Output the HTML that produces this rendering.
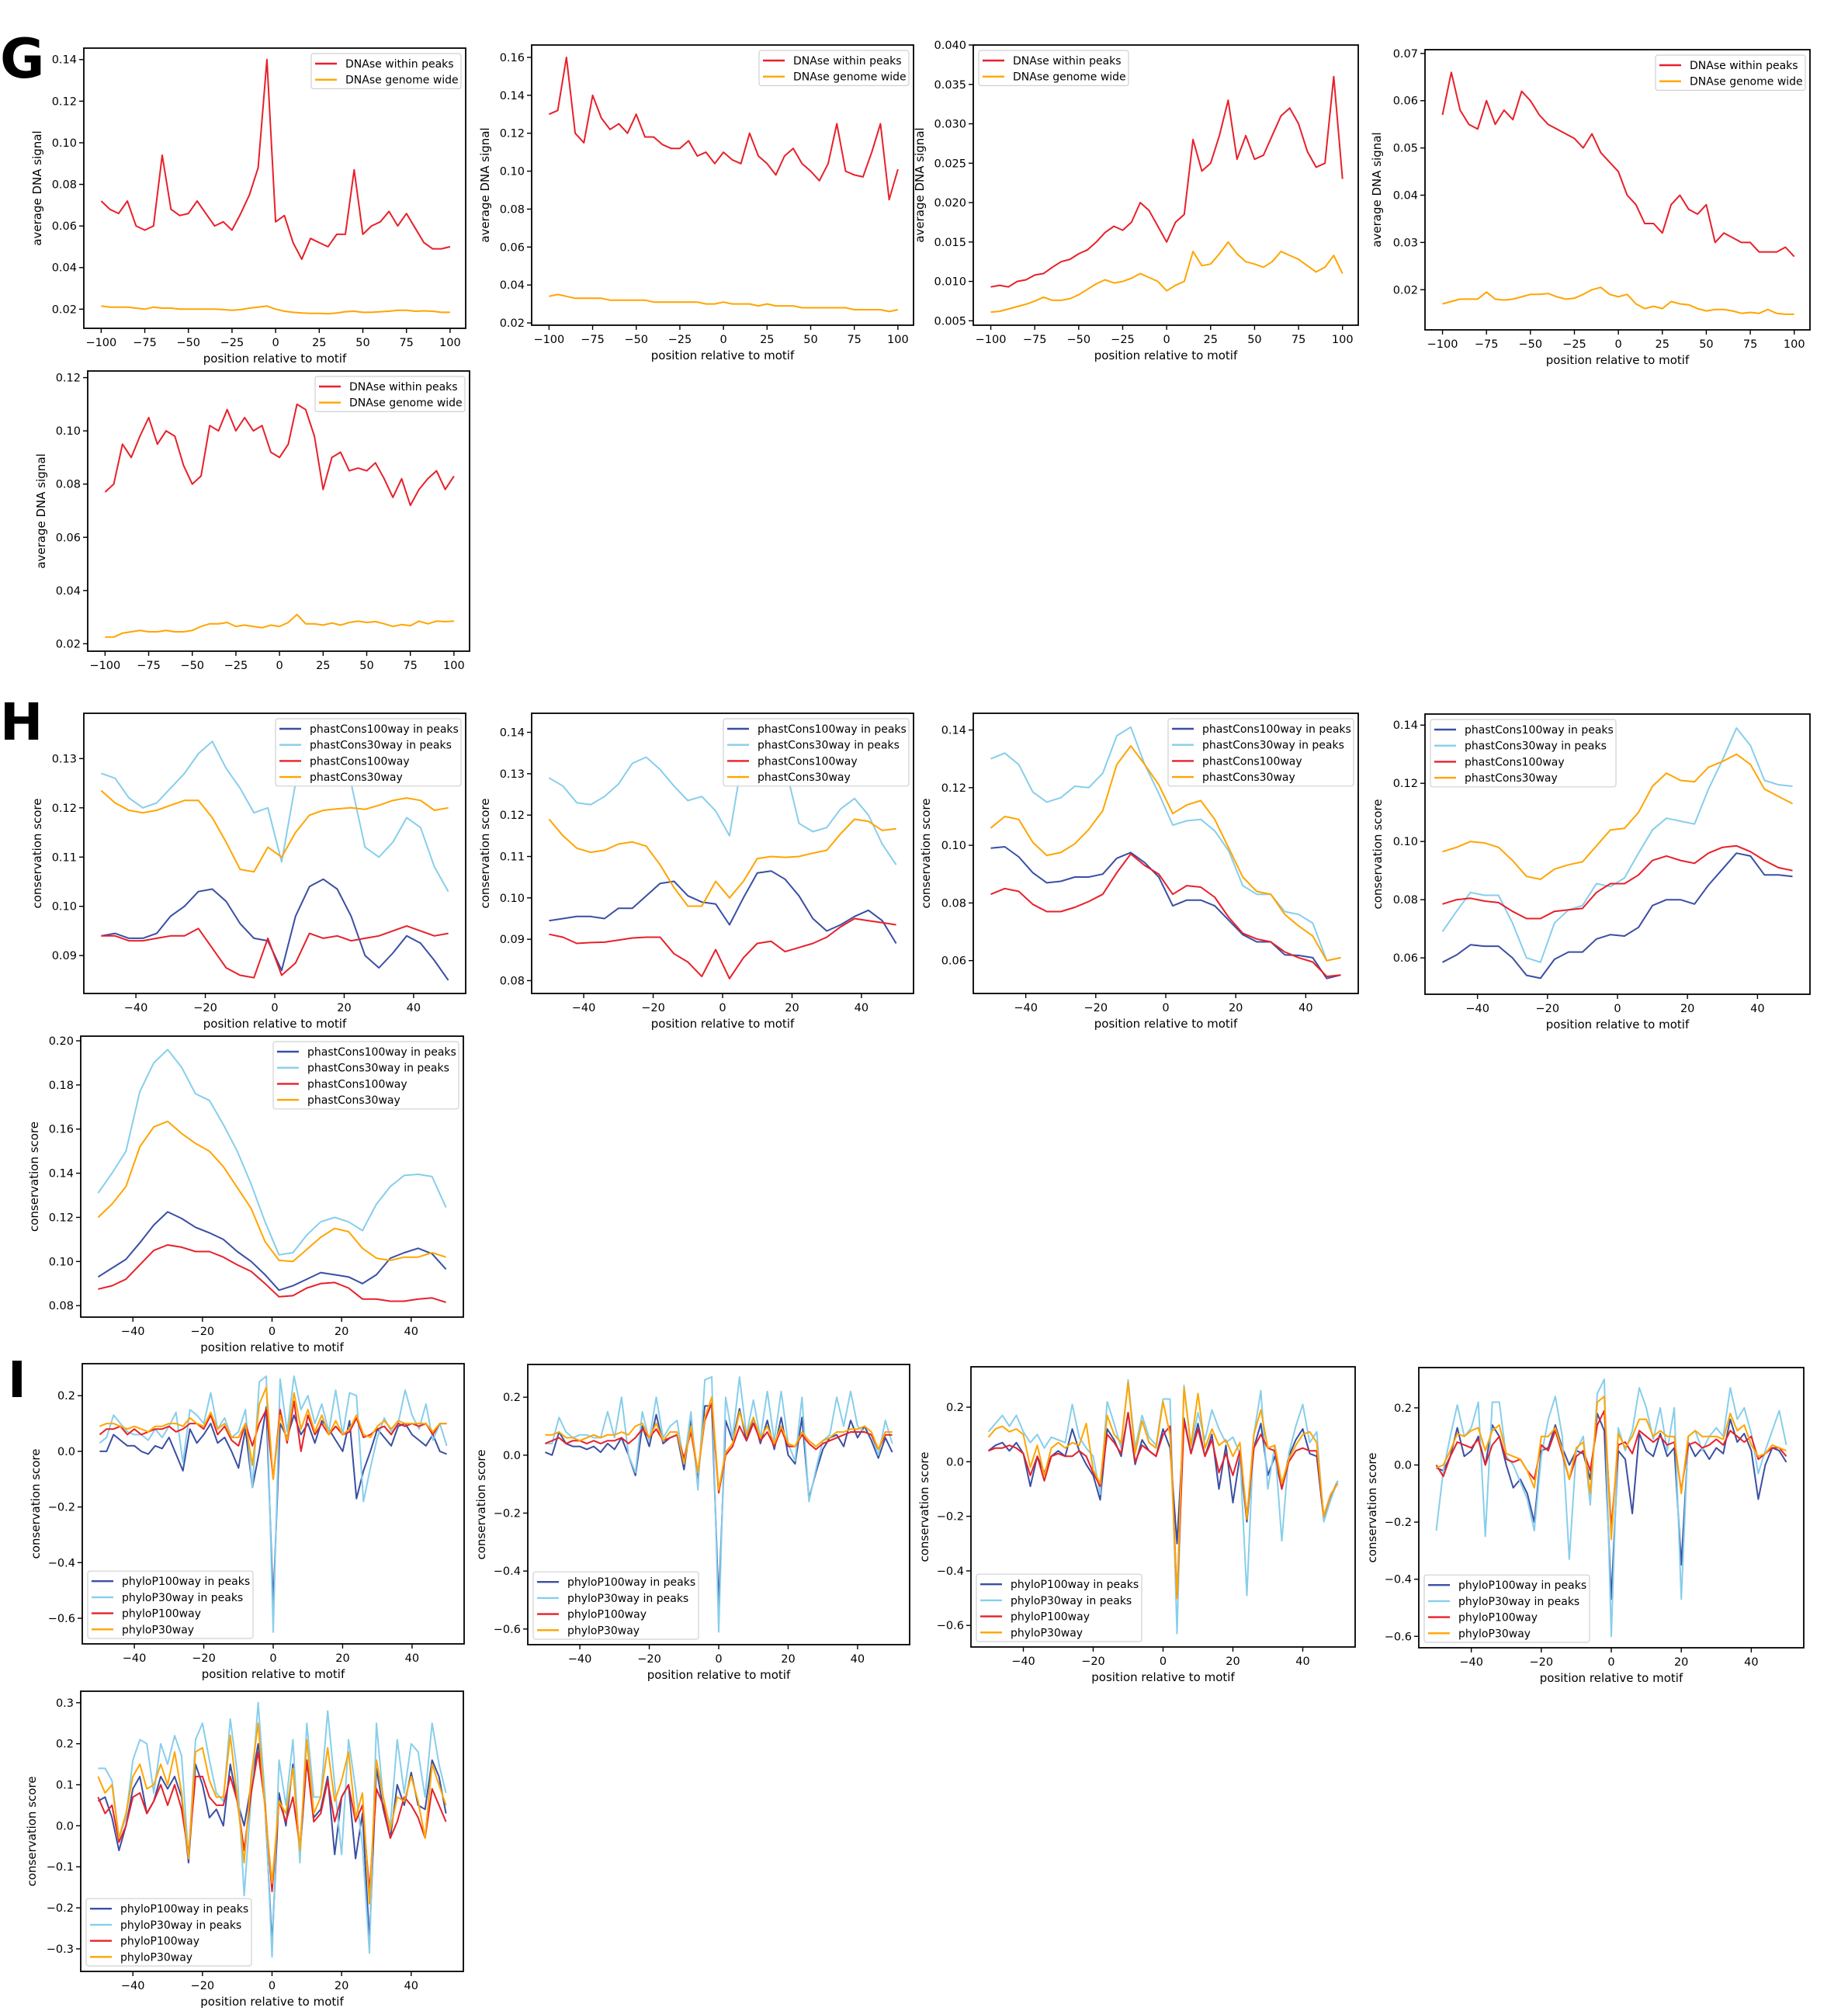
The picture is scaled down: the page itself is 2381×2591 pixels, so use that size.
<!DOCTYPE html>
<html><head><meta charset="utf-8"><style>
html,body{margin:0;padding:0;background:#fff}
svg{display:block}
text{font-family:"DejaVu Sans","Liberation Sans",sans-serif;fill:#000}
</style></head><body>
<svg id="fig" width="2381" height="2591" viewBox="0 0 2381 2591" xmlns="http://www.w3.org/2000/svg">
<rect width="2381" height="2591" fill="#fff"/>
<text x="0" y="100" font-size="70" font-weight="bold" font-family="DejaVu Sans, sans-serif">G</text>
<text x="0" y="953" font-size="66" font-weight="bold" font-family="DejaVu Sans, sans-serif">H</text>
<text x="10" y="1800" font-size="64" font-weight="bold" font-family="DejaVu Sans, sans-serif">I</text>
</svg>
<script>
// ---------- data ----------
const gX=[-100,-95,-90,-85,-80,-75,-70,-65,-60,-55,-50,-45,-40,-35,-30,-25,-20,-15,-10,-5,0,5,10,15,20,25,30,35,40,45,50,55,60,65,70,75,80,85,90,95,100];
const hX=[-50,-46,-42,-38,-34,-30,-26,-22,-18,-14,-10,-6,-2,2,6,10,14,18,22,26,30,34,38,42,46,50];
const iX=[-50,-48,-46,-44,-42,-40,-38,-36,-34,-32,-30,-28,-26,-24,-22,-20,-18,-16,-14,-12,-10,-8,-6,-4,-2,0,2,4,6,8,10,12,14,16,18,20,22,24,26,28,30,32,34,36,38,40,42,44,46,48,50];
const gXTicks=['-100','-75','-50','-25','0','25','50','75','100'];
const hXTicks=['-40','-20','0','20','40'];

const g1Red=[0.072,0.068,0.066,0.072,0.060,0.058,0.060,0.094,0.068,0.065,0.066,0.072,0.066,0.060,0.062,0.058,0.066,0.075,0.088,0.140,0.062,0.065,0.052,0.044,0.054,0.052,0.050,0.056,0.056,0.087,0.056,0.060,0.062,0.067,0.060,0.066,0.059,0.052,0.049,0.049,0.050];
const g1Orange=[0.0215,0.021,0.021,0.021,0.0205,0.020,0.021,0.0205,0.0205,0.020,0.020,0.020,0.020,0.020,0.0198,0.0195,0.0198,0.0205,0.021,0.0215,0.020,0.019,0.0185,0.0182,0.018,0.018,0.0178,0.0182,0.0188,0.019,0.0185,0.0185,0.0188,0.019,0.0195,0.0195,0.019,0.0192,0.019,0.0185,0.0185];
const g1YTicks=['0.02','0.04','0.06','0.08','0.10','0.12','0.14'];

const g2Red=[0.13,0.132,0.16,0.12,0.115,0.14,0.128,0.122,0.125,0.12,0.13,0.118,0.118,0.114,0.112,0.112,0.116,0.108,0.11,0.104,0.11,0.106,0.104,0.12,0.108,0.104,0.098,0.108,0.112,0.104,0.1,0.095,0.104,0.125,0.1,0.098,0.097,0.11,0.125,0.085,0.101];
const g2Orange=[0.034,0.035,0.034,0.033,0.033,0.033,0.033,0.032,0.032,0.032,0.032,0.032,0.031,0.031,0.031,0.031,0.031,0.031,0.030,0.030,0.031,0.030,0.030,0.030,0.029,0.030,0.029,0.029,0.029,0.028,0.028,0.028,0.028,0.028,0.028,0.027,0.027,0.027,0.027,0.026,0.027];
const g2YTicks=['0.02','0.04','0.06','0.08','0.10','0.12','0.14','0.16'];

const g3Red=[0.0093,0.0095,0.0093,0.0100,0.0102,0.0108,0.0110,0.0118,0.0125,0.0128,0.0135,0.0140,0.0150,0.0162,0.0170,0.0165,0.0175,0.0200,0.0190,0.0170,0.0150,0.0175,0.0185,0.0280,0.0240,0.0250,0.0285,0.0330,0.0255,0.0285,0.0255,0.0260,0.0285,0.0310,0.0320,0.0300,0.0265,0.0245,0.0250,0.0360,0.0230];
const g3Orange=[0.0061,0.0062,0.0065,0.0068,0.0071,0.0075,0.0080,0.0076,0.0076,0.0078,0.0083,0.0090,0.0097,0.0102,0.0098,0.0100,0.0104,0.0110,0.0105,0.0100,0.0088,0.0095,0.0100,0.0138,0.0120,0.0122,0.0135,0.0150,0.0135,0.0125,0.0122,0.0118,0.0125,0.0138,0.0133,0.0128,0.0120,0.0112,0.0118,0.0133,0.0110];
const g3YTicks=['0.005','0.010','0.015','0.020','0.025','0.030','0.035','0.040'];

const g4Red=[0.057,0.066,0.058,0.055,0.054,0.060,0.055,0.058,0.056,0.062,0.060,0.057,0.055,0.054,0.053,0.052,0.050,0.053,0.049,0.047,0.045,0.040,0.038,0.034,0.034,0.032,0.038,0.040,0.037,0.036,0.038,0.030,0.032,0.031,0.030,0.030,0.028,0.028,0.028,0.029,0.027];
const g4Orange=[0.017,0.0175,0.018,0.018,0.018,0.0195,0.018,0.0178,0.018,0.0185,0.019,0.019,0.0192,0.0185,0.018,0.0182,0.019,0.020,0.0205,0.019,0.0185,0.019,0.017,0.016,0.0165,0.016,0.0175,0.017,0.0168,0.016,0.0155,0.0158,0.0158,0.0155,0.015,0.0152,0.015,0.0158,0.015,0.0148,0.0148];
const g4YTicks=['0.02','0.03','0.04','0.05','0.06','0.07'];

const g5Red=[0.077,0.080,0.095,0.090,0.098,0.105,0.095,0.100,0.098,0.087,0.080,0.083,0.102,0.100,0.108,0.100,0.105,0.100,0.102,0.092,0.090,0.095,0.110,0.108,0.098,0.078,0.090,0.092,0.085,0.086,0.085,0.088,0.082,0.075,0.082,0.072,0.078,0.082,0.085,0.078,0.083];
const g5Orange=[0.0225,0.0225,0.024,0.0245,0.025,0.0245,0.0245,0.025,0.0245,0.0245,0.025,0.0265,0.0275,0.0275,0.028,0.0265,0.027,0.0265,0.026,0.027,0.0265,0.028,0.031,0.0275,0.0275,0.027,0.0278,0.027,0.028,0.0285,0.028,0.0283,0.0275,0.0265,0.0272,0.0268,0.0285,0.0275,0.0285,0.0283,0.0285];
const g5YTicks=['0.02','0.04','0.06','0.08','0.10','0.12'];

const h1Light=[0.127,0.126,0.122,0.120,0.121,0.124,0.127,0.131,0.1335,0.128,0.124,0.119,0.120,0.109,0.125,0.136,0.138,0.135,0.125,0.112,0.110,0.113,0.118,0.116,0.108,0.103];
const h1Orange=[0.1235,0.121,0.1195,0.119,0.1195,0.1205,0.1215,0.1215,0.118,0.113,0.1075,0.107,0.112,0.110,0.115,0.1185,0.1195,0.1198,0.1200,0.1197,0.1205,0.1215,0.122,0.1215,0.1195,0.120];
const h1Dark=[0.094,0.0945,0.0935,0.0935,0.0945,0.098,0.100,0.103,0.1035,0.101,0.0965,0.0935,0.093,0.087,0.098,0.104,0.1055,0.1035,0.098,0.090,0.0875,0.0905,0.094,0.0925,0.089,0.085];
const h1Red=[0.094,0.094,0.093,0.093,0.0935,0.094,0.094,0.0955,0.0915,0.0875,0.086,0.0855,0.0935,0.086,0.0885,0.0945,0.0935,0.094,0.093,0.0935,0.094,0.095,0.096,0.095,0.094,0.0945];
const h1YTicks=['0.09','0.10','0.11','0.12','0.13'];

const h2Light=[0.129,0.127,0.123,0.1225,0.1245,0.1275,0.1325,0.134,0.131,0.127,0.1235,0.1245,0.121,0.115,0.135,0.14,0.14,0.132,0.118,0.116,0.117,0.1215,0.124,0.120,0.113,0.108];
const h2Orange=[0.119,0.115,0.112,0.111,0.1115,0.113,0.1135,0.1125,0.108,0.1025,0.098,0.098,0.104,0.100,0.104,0.1095,0.1100,0.1098,0.1100,0.1108,0.1115,0.1155,0.1190,0.1185,0.1163,0.1167];
const h2Dark=[0.0945,0.095,0.0955,0.0955,0.095,0.0975,0.0975,0.1005,0.1035,0.104,0.1005,0.099,0.0985,0.0935,0.100,0.106,0.1065,0.1045,0.1005,0.095,0.092,0.0935,0.0955,0.0970,0.0945,0.089];
const h2Red=[0.0912,0.0905,0.089,0.0892,0.0893,0.0898,0.0903,0.0905,0.0905,0.0865,0.0845,0.081,0.0875,0.0805,0.0855,0.089,0.0895,0.087,0.088,0.089,0.0905,0.093,0.095,0.0945,0.094,0.0935];
const h2YTicks=['0.08','0.09','0.10','0.11','0.12','0.13','0.14'];

const h3Light=[0.130,0.132,0.128,0.1185,0.115,0.1165,0.1205,0.120,0.125,0.138,0.141,0.128,0.118,0.107,0.1085,0.109,0.105,0.098,0.086,0.083,0.083,0.077,0.076,0.073,0.060,0.061];
const h3Orange=[0.106,0.11,0.109,0.101,0.0965,0.0975,0.1005,0.1055,0.112,0.128,0.1345,0.128,0.121,0.111,0.114,0.1155,0.109,0.099,0.089,0.084,0.083,0.076,0.072,0.0685,0.060,0.061];
const h3Dark=[0.099,0.0995,0.096,0.0905,0.087,0.0875,0.089,0.089,0.090,0.0955,0.0975,0.094,0.089,0.079,0.081,0.081,0.079,0.074,0.069,0.0665,0.0665,0.062,0.0618,0.061,0.0538,0.055];
const h3Red=[0.083,0.085,0.084,0.0795,0.077,0.077,0.0785,0.0805,0.083,0.0905,0.097,0.093,0.09,0.083,0.086,0.0855,0.082,0.075,0.0695,0.0675,0.0665,0.063,0.061,0.0595,0.0545,0.055];
const h3YTicks=['0.06','0.08','0.10','0.12','0.14'];

const h4Light=[0.069,0.076,0.0825,0.0815,0.0815,0.072,0.060,0.0585,0.072,0.0765,0.078,0.0855,0.0845,0.0875,0.096,0.104,0.108,0.107,0.106,0.118,0.128,0.139,0.133,0.121,0.1195,0.119];
const h4Orange=[0.0965,0.098,0.100,0.0995,0.098,0.0935,0.088,0.087,0.0905,0.092,0.093,0.0985,0.104,0.1045,0.110,0.119,0.1235,0.121,0.1205,0.1255,0.1275,0.130,0.1265,0.118,0.1155,0.113];
const h4Dark=[0.0585,0.061,0.0645,0.064,0.064,0.060,0.054,0.053,0.0595,0.062,0.062,0.0665,0.068,0.0675,0.0705,0.078,0.080,0.080,0.0785,0.085,0.0905,0.096,0.095,0.0885,0.0885,0.088];
const h4Red=[0.0785,0.080,0.0805,0.0795,0.079,0.076,0.0735,0.0735,0.076,0.0765,0.077,0.0825,0.0855,0.0855,0.0885,0.0935,0.095,0.0935,0.0925,0.096,0.098,0.0985,0.0965,0.0935,0.091,0.090];
const h4YTicks=['0.06','0.08','0.10','0.12','0.14'];

const h5Light=[0.131,0.140,0.150,0.177,0.190,0.196,0.188,0.176,0.173,0.162,0.150,0.135,0.118,0.103,0.104,0.112,0.118,0.120,0.118,0.114,0.126,0.134,0.139,0.1395,0.1385,0.1245];
const h5Orange=[0.120,0.126,0.134,0.152,0.161,0.1635,0.158,0.1535,0.150,0.143,0.1335,0.124,0.109,0.1005,0.100,0.1055,0.111,0.115,0.1135,0.106,0.1015,0.1005,0.102,0.102,0.104,0.102];
const h5Dark=[0.093,0.097,0.101,0.1085,0.1165,0.1225,0.1195,0.1155,0.113,0.110,0.1045,0.100,0.094,0.087,0.089,0.092,0.095,0.094,0.093,0.090,0.094,0.1015,0.104,0.106,0.1035,0.0965];
const h5Red=[0.0875,0.089,0.092,0.0985,0.105,0.1075,0.1065,0.1045,0.1045,0.102,0.0985,0.0955,0.090,0.084,0.0845,0.088,0.090,0.0905,0.088,0.083,0.083,0.082,0.082,0.083,0.0835,0.0815];
const h5YTicks=['0.08','0.10','0.12','0.14','0.16','0.18','0.20'];

const i1Dark=[0.0,0.0,0.06,0.04,0.02,0.02,0.0,-0.01,0.02,0.01,0.05,-0.01,-0.07,0.08,0.03,0.06,0.1,0.03,0.05,0.0,-0.06,0.08,-0.13,0.0,0.16,-0.55,0.1,0.05,0.13,0.06,0.1,0.03,0.11,0.08,0.04,0.0,0.11,-0.17,-0.07,0.0,0.08,0.05,0.02,0.09,0.1,0.06,0.04,0.02,0.06,0.0,-0.01];
const i1Light=[0.03,0.05,0.13,0.1,0.07,0.06,0.06,0.04,0.08,0.05,0.09,0.14,-0.04,0.15,0.13,0.1,0.21,0.08,0.12,0.05,0.07,0.15,-0.13,0.25,0.27,-0.65,0.26,0.07,0.27,0.15,0.2,0.1,0.17,0.07,0.22,0.06,0.21,0.2,-0.18,-0.06,0.05,0.12,0.07,0.1,0.22,0.13,0.08,0.17,0.04,0.1,0.02];
const i1Red=[0.06,0.08,0.08,0.09,0.06,0.08,0.06,0.07,0.08,0.08,0.09,0.07,0.08,0.1,0.1,0.08,0.13,0.06,0.09,0.04,0.02,0.1,0.02,0.1,0.15,-0.1,0.15,0.03,0.18,0.0,0.13,0.06,0.1,0.06,0.09,0.06,0.07,0.12,0.05,0.06,0.08,0.09,0.06,0.1,0.09,0.1,0.09,0.1,0.06,0.1,0.1];
const i1Orange=[0.09,0.1,0.1,0.09,0.08,0.09,0.08,0.07,0.09,0.09,0.1,0.1,0.09,0.12,0.1,0.09,0.14,0.08,0.1,0.05,0.05,0.1,-0.05,0.17,0.23,-0.1,0.13,0.04,0.21,0.08,0.15,0.07,0.13,0.06,0.11,0.06,0.08,0.13,0.06,0.05,0.09,0.11,0.08,0.11,0.1,0.1,0.1,0.1,0.07,0.1,0.1];

const i2Dark=[0.01,0.0,0.08,0.04,0.03,0.03,0.02,0.03,0.01,0.04,0.02,0.06,0.0,-0.07,0.1,0.03,0.14,0.04,0.06,0.07,-0.05,0.12,-0.08,0.17,0.17,-0.52,0.12,0.05,0.16,0.05,0.13,0.04,0.12,0.02,0.13,0.0,-0.03,0.13,-0.15,-0.06,0.02,0.06,0.07,0.03,0.12,0.06,0.1,0.05,-0.01,0.06,0.01];
const i2Light=[0.04,0.04,0.13,0.08,0.06,0.07,0.07,0.06,0.06,0.15,0.06,0.2,0.0,-0.06,0.15,0.05,0.2,0.06,0.1,0.12,-0.03,0.15,-0.12,0.26,0.27,-0.61,0.2,0.06,0.27,0.07,0.19,0.06,0.22,0.05,0.22,0.04,-0.02,0.2,-0.16,-0.05,0.05,0.07,0.2,0.1,0.22,0.1,0.08,0.07,0.0,0.12,0.04];
const i2Red=[0.04,0.05,0.06,0.04,0.05,0.05,0.04,0.05,0.04,0.05,0.05,0.06,0.04,0.06,0.09,0.06,0.09,0.05,0.06,0.07,-0.01,0.08,-0.06,0.12,0.18,-0.13,0.0,0.03,0.1,0.05,0.11,0.05,0.08,0.03,0.09,0.03,0.03,0.07,0.04,0.02,0.04,0.05,0.06,0.07,0.08,0.08,0.08,0.07,0.02,0.07,0.07];
const i2Orange=[0.07,0.07,0.08,0.06,0.06,0.05,0.06,0.07,0.06,0.07,0.07,0.08,0.07,0.1,0.11,0.06,0.11,0.05,0.08,0.08,-0.03,0.1,-0.06,0.13,0.2,-0.12,0.01,0.04,0.15,0.07,0.13,0.06,0.1,0.04,0.1,0.04,0.03,0.08,0.05,0.03,0.05,0.06,0.08,0.08,0.09,0.09,0.1,0.08,0.02,0.08,0.08];

const i3Dark=[0.04,0.06,0.07,0.04,0.07,0.03,-0.09,0.02,-0.04,0.02,0.04,0.02,0.12,0.04,-0.01,-0.05,-0.14,0.12,0.08,0.02,0.18,-0.01,0.08,0.04,0.02,0.12,0.05,-0.3,0.16,0.03,0.14,0.02,0.1,-0.1,0.06,-0.15,0.02,-0.22,0.05,0.14,-0.05,0.02,-0.1,0.02,0.08,0.12,0.03,0.02,-0.21,-0.13,-0.07];
const i3Light=[0.11,0.14,0.17,0.13,0.17,0.11,0.07,0.1,0.05,0.09,0.08,0.07,0.21,0.09,0.05,0.02,-0.12,0.22,0.14,0.05,0.3,0.05,0.17,0.09,0.06,0.23,0.23,-0.63,0.28,0.05,0.18,0.08,0.19,0.12,0.07,0.09,0.03,-0.49,0.1,0.26,-0.1,0.06,-0.29,0.03,0.13,0.21,0.07,0.11,-0.22,-0.14,-0.07];
const i3Red=[0.04,0.05,0.05,0.06,0.05,0.03,-0.05,0.02,-0.07,0.02,0.03,0.02,0.02,0.04,0.02,-0.04,-0.09,0.1,0.07,0.03,0.18,0.0,0.06,0.04,0.02,0.1,0.13,-0.5,0.15,0.03,0.12,0.02,0.08,-0.04,0.03,-0.05,0.04,-0.2,0.05,0.1,0.05,0.04,-0.1,0.0,0.04,0.05,0.04,0.04,-0.2,-0.12,-0.08];
const i3Orange=[0.09,0.12,0.13,0.11,0.12,0.1,-0.02,0.06,-0.05,0.05,0.07,0.05,0.07,0.06,0.14,-0.03,-0.08,0.17,0.1,0.07,0.29,0.03,0.15,0.07,0.05,0.22,0.1,-0.5,0.27,0.06,0.25,0.05,0.12,0.06,0.08,0.02,0.07,-0.21,0.1,0.19,0.05,0.06,-0.08,0.01,0.06,0.1,0.11,0.07,-0.2,-0.12,-0.08];

const i4Dark=[-0.01,-0.02,0.03,0.13,0.03,0.05,0.1,0.0,0.14,0.1,0.0,-0.08,-0.05,-0.1,-0.2,0.05,0.06,0.14,0.06,0.0,0.05,0.04,-0.05,0.18,0.12,-0.47,0.05,0.02,-0.17,0.11,0.05,0.03,0.11,0.03,0.06,-0.35,0.08,0.03,0.06,0.02,0.06,0.04,0.16,0.08,0.11,0.05,-0.12,0.0,0.06,0.05,0.01];
const i4Light=[-0.23,-0.02,0.1,0.21,0.1,0.13,0.22,-0.25,0.22,0.22,0.03,0.0,-0.06,-0.12,-0.23,0.03,0.16,0.24,0.1,-0.33,0.05,0.1,-0.14,0.25,0.3,-0.6,0.13,0.05,0.12,0.27,0.2,0.09,0.2,0.05,0.2,-0.47,0.1,0.12,0.05,0.1,0.13,0.1,0.27,0.16,0.2,0.11,-0.03,0.05,0.12,0.19,0.07];
const i4Red=[0.0,-0.04,0.03,0.08,0.07,0.06,0.09,0.0,0.07,0.1,0.02,0.01,0.02,-0.02,-0.05,0.07,0.05,0.12,0.04,-0.05,0.03,0.05,-0.02,0.14,0.19,-0.22,0.07,0.08,0.04,0.12,0.1,0.08,0.1,0.07,0.08,-0.09,0.07,0.08,0.06,0.07,0.09,0.07,0.12,0.1,0.08,0.1,0.02,0.04,0.06,0.06,0.03];
const i4Orange=[-0.01,0.0,0.05,0.11,0.1,0.12,0.13,0.05,0.12,0.14,0.04,0.03,0.02,-0.02,-0.08,0.1,0.1,0.13,0.05,-0.05,0.06,0.08,-0.1,0.22,0.24,-0.26,0.11,0.06,0.1,0.16,0.16,0.1,0.12,0.1,0.1,-0.1,0.1,0.12,0.1,0.1,0.1,0.09,0.18,0.12,0.14,0.07,0.03,0.04,0.07,0.06,0.05];

const i5Dark=[0.06,0.07,0.02,-0.06,0.0,0.09,0.12,0.03,0.06,0.12,0.09,0.12,0.07,-0.09,0.15,0.1,0.02,0.04,0.0,0.15,0.06,0.0,0.1,0.2,0.05,-0.29,0.08,0.0,0.15,-0.07,0.16,0.02,0.04,0.12,-0.07,0.07,0.1,-0.08,0.03,-0.28,0.14,0.04,-0.03,0.1,0.05,0.13,0.05,0.04,0.16,0.12,0.03];
const i5Light=[0.14,0.14,0.11,-0.03,0.02,0.16,0.21,0.2,0.08,0.2,0.15,0.22,0.17,-0.08,0.21,0.25,0.16,0.08,0.06,0.26,0.13,-0.17,0.07,0.3,0.07,-0.32,0.16,0.05,0.21,-0.09,0.25,0.07,0.07,0.28,0.1,-0.07,0.21,0.09,-0.05,-0.31,0.25,0.06,0.0,0.21,0.08,0.2,0.18,0.07,0.25,0.15,0.08];
const i5Red=[0.07,0.03,0.05,-0.04,0.0,0.07,0.08,0.03,0.06,0.1,0.05,0.1,0.04,-0.07,0.12,0.12,0.07,0.05,0.05,0.12,0.06,-0.06,0.08,0.18,0.05,-0.16,0.06,0.01,0.07,-0.05,0.16,0.01,0.03,0.11,0.01,0.07,0.1,0.01,0.05,-0.16,0.09,0.05,-0.03,0.01,0.07,0.05,0.02,-0.03,0.09,0.05,0.01];
const i5Orange=[0.12,0.08,0.1,-0.03,0.03,0.12,0.15,0.09,0.1,0.15,0.1,0.18,0.08,-0.08,0.18,0.19,0.11,0.07,0.07,0.22,0.07,-0.09,0.12,0.25,0.04,-0.14,0.06,0.03,0.14,-0.06,0.21,0.03,0.07,0.19,0.06,0.11,0.18,0.02,0.08,-0.19,0.16,0.07,-0.01,0.07,0.06,0.12,0.06,-0.03,0.15,0.1,0.05];

const iYTicks=['-0.6','-0.4','-0.2','0.0','0.2'];
const i5YTicks=['-0.3','-0.2','-0.1','0.0','0.1','0.2','0.3'];

// ---------- styling ----------
const RED='#e8202a', ORANGE='#ffa500', DARK='#3a4fa3', LIGHT='#87ceeb';
const GX=[-109.95,108.95], HX=[-55,55];
const gS=(r,o)=>[[gX,r,RED,'DNAse within peaks'],[gX,o,ORANGE,'DNAse genome wide']];
const hS=(d,l,r,o)=>[[hX,d,DARK,'phastCons100way in peaks'],[hX,l,LIGHT,'phastCons30way in peaks'],[hX,r,RED,'phastCons100way'],[hX,o,ORANGE,'phastCons30way']];
const iS=(d,l,r,o)=>[[iX,d,DARK,'phyloP100way in peaks'],[iX,l,LIGHT,'phyloP30way in peaks'],[iX,r,RED,'phyloP100way'],[iX,o,ORANGE,'phyloP30way']];
const GY='average DNA signal', CY='conservation score';
const panels=[
 {id:'g1',box:[108,62,600,423],xl:GX,yl:[0.0108,0.1455],yt:g1YTicks,xt:gXTicks,ylab:GY,yo:55,xlab:true,leg:'ur',lw:193,s:gS(g1Red,g1Orange)},
 {id:'g2',box:[685,58,1177,419],xl:GX,yl:[0.0188,0.1665],yt:g2YTicks,xt:gXTicks,ylab:GY,yo:55,xlab:true,leg:'ur',lw:193,s:gS(g2Red,g2Orange)},
 {id:'g3',box:[1254,58,1750,419],xl:GX,yl:[0.00444,0.0400],yt:g3YTicks,xt:gXTicks,ylab:GY,yo:64,xlab:true,leg:'ul',lw:193,s:gS(g3Red,g3Orange)},
 {id:'g4',box:[1836,64,2332,425],xl:GX,yl:[0.0115,0.0708],yt:g4YTicks,xt:gXTicks,ylab:GY,yo:57,xlab:true,leg:'ur',lw:193,s:gS(g4Red,g4Orange)},
 {id:'g5',box:[113,478,605,839],xl:GX,yl:[0.0172,0.1225],yt:g5YTicks,xt:gXTicks,ylab:GY,yo:55,xlab:false,leg:'ur',lw:193,s:gS(g5Red,g5Orange)},
 {id:'h1',box:[108,919,600,1280],xl:HX,yl:[0.0823,0.1392],yt:h1YTicks,xt:hXTicks,ylab:CY,yo:55,xlab:true,leg:'ur',lw:239,s:hS(h1Dark,h1Light,h1Red,h1Orange)},
 {id:'h2',box:[685,919,1177,1280],xl:HX,yl:[0.0769,0.1446],yt:h2YTicks,xt:hXTicks,ylab:CY,yo:55,xlab:true,leg:'ur',lw:239,s:hS(h2Dark,h2Light,h2Red,h2Orange)},
 {id:'h3',box:[1254,919,1750,1280],xl:HX,yl:[0.0486,0.1458],yt:h3YTicks,xt:hXTicks,ylab:CY,yo:56,xlab:true,leg:'ur',lw:239,s:hS(h3Dark,h3Light,h3Red,h3Orange)},
 {id:'h4',box:[1836,920,2332,1281],xl:HX,yl:[0.0475,0.1438],yt:h4YTicks,xt:hXTicks,ylab:CY,yo:56,xlab:true,leg:'ul',lw:239,s:hS(h4Dark,h4Light,h4Red,h4Orange)},
 {id:'h5',box:[104,1335,597,1697],xl:HX,yl:[0.0748,0.2021],yt:h5YTicks,xt:hXTicks,ylab:CY,yo:55,xlab:true,leg:'ur',lw:239,s:hS(h5Dark,h5Light,h5Red,h5Orange)},
 {id:'i1',box:[106,1757,598,2118],xl:HX,yl:[-0.692,0.315],yt:iYTicks,xt:hXTicks,ylab:CY,yo:55,xlab:true,leg:'ll',lw:213,s:iS(i1Dark,i1Light,i1Red,i1Orange)},
 {id:'i2',box:[680,1758,1172,2119],xl:HX,yl:[-0.654,0.313],yt:iYTicks,xt:hXTicks,ylab:CY,yo:55,xlab:true,leg:'ll',lw:213,s:iS(i2Dark,i2Light,i2Red,i2Orange)},
 {id:'i3',box:[1251,1761,1746,2122],xl:HX,yl:[-0.679,0.348],yt:iYTicks,xt:hXTicks,ylab:CY,yo:55,xlab:true,leg:'ll',lw:213,s:iS(i3Dark,i3Light,i3Red,i3Orange)},
 {id:'i4',box:[1828,1762,2324,2123],xl:HX,yl:[-0.640,0.341],yt:iYTicks,xt:hXTicks,ylab:CY,yo:55,xlab:true,leg:'ll',lw:213,s:iS(i4Dark,i4Light,i4Red,i4Orange)},
 {id:'i5',box:[104,2179,597,2540],xl:HX,yl:[-0.355,0.328],yt:i5YTicks,xt:hXTicks,ylab:CY,yo:58,xlab:true,leg:'ll',lw:213,s:iS(i5Dark,i5Light,i5Red,i5Orange)}
];

const NS='http://www.w3.org/2000/svg';
const svg=document.getElementById('fig');
function mk(tag,attrs,parent){const e=document.createElementNS(NS,tag);for(const k in attrs)e.setAttribute(k,attrs[k]);(parent||svg).appendChild(e);return e;}
const fmt=s=>s.replace('-','\u2212');

panels.forEach(p=>{
  const [L,T,R,B]=p.box;
  const g=mk('g',{});
  
  
  const sx=v=>L+(v-p.xl[0])/(p.xl[1]-p.xl[0])*(R-L);
  const sy=v=>B-(v-p.yl[0])/(p.yl[1]-p.yl[0])*(B-T);
  const clipId='clip-'+p.id;
  const cp=mk('clipPath',{id:clipId},g);
  mk('rect',{x:L,y:T,width:R-L,height:B-T},cp);
  p.s.forEach((s,si)=>{
    const [xs,ys,col,lab]=s;
    const d=ys.map((v,i)=>(i?'L':'M')+sx(xs[i]).toFixed(1)+' '+sy(v).toFixed(1)).join('');
    const path=mk('path',{d:d,fill:'none',stroke:col,'stroke-width':2.0,'stroke-linejoin':'round','clip-path':'url(#'+clipId+')'},g);
    
    
  });
  const fr=mk('rect',{x:L,y:T,width:R-L,height:B-T,fill:'none',stroke:'#000','stroke-width':1.8},g);
  
  
  p.yt.forEach(t=>{
    const y=sy(parseFloat(t));
    mk('line',{x1:L-6,x2:L,y1:y,y2:y,stroke:'#000','stroke-width':1.4},g);
    const tx=mk('text',{x:L-9,y:y+5,'font-size':14.5,'text-anchor':'end'},g);
    tx.textContent=fmt(t);
    
    
  });
  p.xt.forEach(t=>{
    const x=sx(parseFloat(t));
    mk('line',{x1:x,x2:x,y1:B,y2:B+6,stroke:'#000','stroke-width':1.4},g);
    const tx=mk('text',{x:x,y:B+23,'font-size':14.5,'text-anchor':'middle'},g);
    tx.textContent=fmt(t);
    
    
  });
  const cy=(T+B)/2;
  const yl=mk('text',{x:0,y:0,'font-size':15,'text-anchor':'middle',transform:'translate('+(L-p.yo)+','+cy+') rotate(-90)'},g);
  yl.textContent=p.ylab;
  
  
  if(p.xlab){
    const xl=mk('text',{x:(L+R)/2,y:B+44,'font-size':15,'text-anchor':'middle'},g);
    xl.textContent='position relative to motif';
    
    
  }
  const n=p.s.length, lh=n*20.7+4, lw=p.lw;
  let lx,ly;
  if(p.leg==='ur'){lx=R-6-lw;ly=T+7;}
  else if(p.leg==='ul'){lx=L+7;ly=T+7;}
  else {lx=L+7;ly=B-7-lh;}
  const lg=mk('g',{},g);
  
  
  mk('rect',{x:lx,y:ly,width:lw,height:lh,rx:3,fill:'#fff','fill-opacity':0.9,stroke:'#d0d0d0','stroke-width':1.2},lg);
  p.s.forEach((s,i)=>{
    const yy=ly+13+i*20.7;
    const ln=mk('line',{x1:lx+5,x2:lx+33,y1:yy,y2:yy,stroke:s[2],'stroke-width':2.4},lg);
    
    
    const t=mk('text',{x:lx+44,y:yy+5,'font-size':14},lg);
    t.textContent=s[3];
    
    
  });
});
</script>
</body></html>
